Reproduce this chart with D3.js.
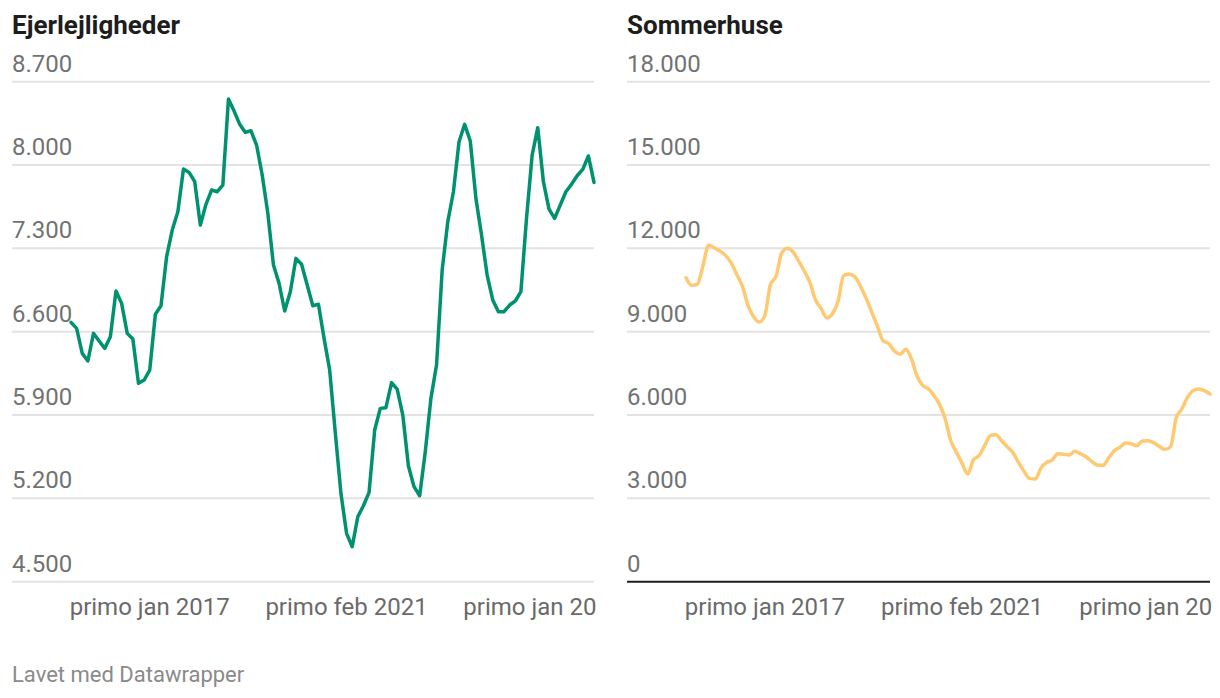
<!DOCTYPE html>
<html><head><meta charset="utf-8">
<script src="https://cdn.jsdelivr.net/npm/d3@7"></script>
<style>
body{margin:0;background:#fff;}
svg{display:block;font-family:Roboto,"Noto Sans",sans-serif;}
</style>
</head><body>
<svg id="chart" width="1220" height="698"></svg>
<script>
// ---- data ----
const ejerlejligheder = [6678,6628,6418,6354,6586,6522,6460,6558,6942,6838,
  6586,6538,6166,6194,6278,6746,6818,7230,7454,7608,
  7966,7938,7860,7496,7670,7790,7776,7832,8554,8454,
  8342,8274,8288,8168,7916,7594,7160,7006,6774,6936,
  7216,7166,6992,6818,6830,6544,6278,5750,5242,4906,
  4794,5046,5138,5250,5774,5956,5962,6172,6118,5900,
  5472,5298,5222,5592,6040,6320,7118,7524,7776,8196,
  8342,8202,7720,7412,7076,6866,6768,6768,6824,6858,
  6936,7552,8084,8314,7860,7630,7552,7664,7776,7838,
  7910,7964,8076,7854];
const sommerhuse = [10944,10668,10704,11364,12108,12024,11904,11748,11484,11064,
  10644,9948,9540,9348,9588,10704,11004,11844,12000,11868,
  11544,11184,10764,10140,9828,9504,9648,10104,11028,11064,
  10968,10620,10188,9684,9180,8664,8568,8304,8184,8364,
  8028,7404,7068,6948,6708,6384,5868,5076,4656,4260,
  3876,4380,4536,4896,5256,5292,5076,4860,4656,4296,
  3972,3720,3696,4092,4296,4380,4608,4584,4560,4692,
  4608,4500,4332,4200,4188,4452,4716,4836,4992,4968,
  4896,5064,5076,5004,4872,4764,4860,5892,6216,6636,
  6876,6936,6876,6756];
const categories = d3.range(ejerlejligheder.length); // periods (index)
const tickLabels = ["primo jan 2017","primo feb 2021","primo jan 2025"];
const tickCategories = [14,49,84];
const ticksEjer = [4500,5200,5900,6600,7300,8000,8700];
const ticksSommer = [0,3000,6000,9000,12000,15000,18000];
const titles = ["Ejerlejligheder","Sommerhuse"];
const footer = "Lavet med Datawrapper";

// ---- layout ----
const svg = d3.select("#chart");
const fmt = d3.formatLocale({decimal:",",thousands:".",grouping:[3],currency:["","kr."]}).format(",");
const yTop = 81.7, yBottom = 581.7;

const panels = [
  {title:titles[0], values:ejerlejligheder, ticks:ticksEjer, color:"#00916e",
   left:12, lineLeft:71, right:594, labelLimit:600, curve:d3.curveLinear, baseline:false},
  {title:titles[1], values:sommerhuse, ticks:ticksSommer, color:"#ffc972",
   left:627, lineLeft:686, right:1210, labelLimit:1216, curve:d3.curveMonotoneX, baseline:true}
];

panels.forEach((p) => {
  const g = svg.append("g");
  const x = d3.scaleLinear().domain([0, categories.length-1]).range([p.lineLeft, p.right]);
  const y = d3.scaleLinear().domain([p.ticks[0], p.ticks[p.ticks.length-1]]).range([yBottom, yTop]);

  // title
  g.append("text").attr("x", p.left).attr("y", 34)
    .attr("font-size", 26).attr("font-weight", 700).attr("fill", "#1d1d1d")
    .text(p.title);

  // grid + y labels
  const yAxis = g.append("g");
  p.ticks.forEach(t => {
    const isBase = p.baseline && t === 0;
    yAxis.append("line")
      .attr("x1", p.left).attr("x2", p.right)
      .attr("y1", y(t)).attr("y2", y(t))
      .attr("stroke", isBase ? "#1d1d1d" : "#e3e3e3")
      .attr("stroke-width", 2);
    yAxis.append("text").attr("x", p.left).attr("y", y(t) - 10)
      .attr("font-size", 24).attr("fill", "#727272")
      .text(fmt(t));
  });

  // x labels (truncated to fit the panel, as in the original)
  const xg = g.append("g");
  tickCategories.forEach((c, k) => {
    const t = xg.append("text").attr("x", x(c)).attr("y", 615)
      .attr("text-anchor", "middle").attr("font-size", 24).attr("fill", "#6a6a6a")
      .text(tickLabels[k]);
    const node = t.node();
    const w = node.getComputedTextLength();
    const start = x(c) - w / 2;
    if (start + w > p.labelLimit) {
      let s = tickLabels[k];
      t.attr("text-anchor", "start").attr("x", start);
      while (s.length > 1 && start + node.getComputedTextLength() > p.labelLimit) {
        s = s.slice(0, -1).replace(/\s+$/, "");
        t.text(s);
      }
    }
  });

  // line
  const line = d3.line().x((d, i) => x(categories[i])).y(d => y(d)).curve(p.curve);
  g.append("path").datum(p.values)
    .attr("d", line).attr("fill", "none")
    .attr("stroke", p.color).attr("stroke-width", 3.5)
    .attr("stroke-linejoin", "round").attr("stroke-linecap", "round");
});

svg.append("text").attr("x", 12).attr("y", 682)
  .attr("font-size", 22).attr("fill", "#8a8a8a").text(footer);
</script>
</body></html>
